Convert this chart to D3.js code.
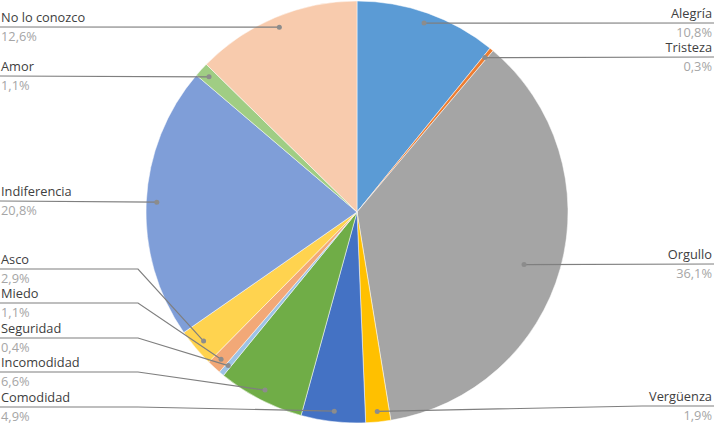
<!DOCTYPE html>
<html>
<head>
<meta charset="utf-8">
<script src="https://cdn.jsdelivr.net/npm/d3@7"></script>
<style>
html,body{margin:0;padding:0;background:#fff;}
svg{display:block;}
text{font-family:"Open Sans",sans-serif;font-size:12.8px;}
</style>
</head>
<body>
<svg id="chart" width="714" height="425"></svg>
<script>
const categories = ["Alegría","Tristeza","Orgullo","Vergüenza","Comodidad","Incomodidad","Seguridad","Miedo","Asco","Indiferencia","Amor","No lo conozco"];
const values = [10.8, 0.3, 36.1, 1.9, 4.9, 6.6, 0.4, 1.1, 2.9, 20.8, 1.1, 12.6];
const valueLabels = ["10,8%","0,3%","36,1%","1,9%","4,9%","6,6%","0,4%","1,1%","2,9%","20,8%","1,1%","12,6%"];

const colors = ["#5B9BD5","#ED7D31","#A5A5A5","#FFC000","#4472C4","#70AD47","#9DC3E6","#F2A877","#FFD34F","#7F9ED8","#A0CD84","#F8CBAD"];
// label layout: side, underline y, anchor radius fraction
const labelSide = ["r","r","r","r","l","l","l","l","l","l","l","l"];
const labelLineY = [23, 57, 264, 406, 407, 372, 338, 303, 269, 201, 76, 27];
const anchorFrac = [0.95,0.95,0.83,0.95,0.95,0.95,0.95,0.95,0.95,0.95,0.95,0.95];

const W = 714, H = 425;
const cx = 357, cy = 212, R = 211;
const svg = d3.select("#chart");
const g = svg.append("g").attr("transform", `translate(${cx},${cy})`);

const pie = d3.pie().sort(null).value(d => d);
const arcs = pie(values);
const arc = d3.arc().innerRadius(0).outerRadius(R);

g.selectAll("path.slice").data(arcs).enter().append("path")
  .attr("class","slice")
  .attr("d", arc)
  .attr("fill", (d,i) => colors[i])
  .attr("stroke", "#fff")
  .attr("stroke-width", 0.5);

const leftElbow = 138, rightElbow = 642;
const lineColor = "#7f7f7f";

arcs.forEach((d,i) => {
  const a = (d.startAngle + d.endAngle) / 2 + (i === 2 ? 0.035 : 0);
  const rr = R * anchorFrac[i];
  const ax = cx + Math.sin(a) * rr;
  const ay = cy - Math.cos(a) * rr;
  const ly = labelLineY[i];
  let pts;
  if (labelSide[i] === "l") {
    pts = [[0, ly], [leftElbow, ly], [ax, ay]];
  } else {
    pts = [[ax, ay], [rightElbow, ly], [W, ly]];
  }
  if (Math.abs(ay - ly) < 2) {
    pts = labelSide[i] === "l" ? [[0, ly], [ax, ay]] : [[ax, ay], [W, ly]];
  }
  svg.append("path")
    .attr("d", d3.line()(pts))
    .attr("fill","none")
    .attr("stroke", lineColor)
    .attr("stroke-width", 1.2);
  svg.append("circle")
    .attr("cx", ax).attr("cy", ay).attr("r", 2.5)
    .attr("fill", "#8c8c8c");

  const tx = labelSide[i] === "l" ? 1 : 712;
  const anchor = labelSide[i] === "l" ? "start" : "end";
  svg.append("text")
    .attr("x", tx).attr("y", ly - 5)
    .attr("text-anchor", anchor)
    .attr("fill", "#404040")
    .text(categories[i]);
  svg.append("text")
    .attr("x", tx).attr("y", ly + 14)
    .attr("text-anchor", anchor)
    .attr("fill", "#a6a6a6")
    .text(valueLabels[i]);
});
</script>
</body>
</html>
